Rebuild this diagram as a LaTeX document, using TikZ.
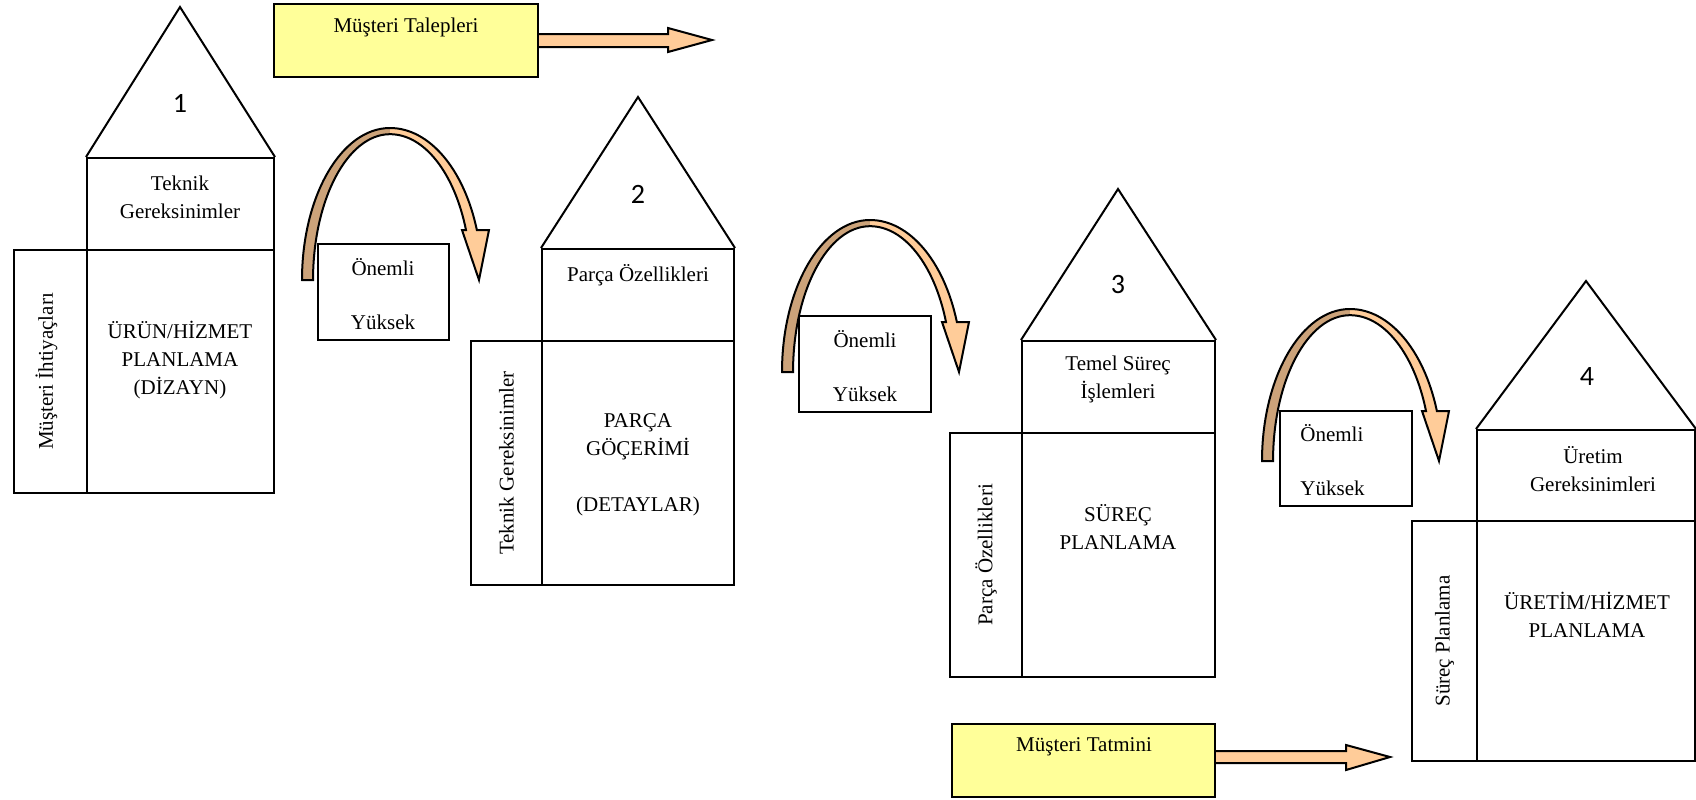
\documentclass[tikz,border=0pt]{standalone}
\usepackage{fontspec}
\setmainfont{Liberation Serif}
\newfontfamily\digitfont{Carlito}
\usetikzlibrary{fit}
\definecolor{notepad}{HTML}{FFFF99}
\definecolor{peach}{HTML}{FFCC99}
\definecolor{arcshade}{HTML}{CCA37A}
\tikzset{
  hbox/.style={draw, line width=1pt, inner sep=0pt, fill=white},
  ybox/.style={draw, line width=1.2pt, inner sep=0pt, fill=notepad},
  roofline/.style={line width=1pt, line join=miter},
  txt/.style={font=\fontsize{10.5}{14}\selectfont, align=center, inner sep=0pt},
  digit/.style={font=\digitfont\fontsize{14}{16}\selectfont, inner sep=0pt},
  blockarrow/.style={draw, line width=1pt, fill=peach, line join=miter},
  pics/uturn/.style={code={
    % shaded back of the turning arrow, from its foot up to the top
    \fill[arcshade]
      (0,0) arc[start angle=180, end angle=270, x radius=88, y radius=152]
      -- (88,-146)
      arc[start angle=270, end angle=180, x radius=77, y radius=146] -- cycle;
    % front band coming down into the head
    \fill[peach]
      (88,-152) arc[start angle=270, end angle=340.8, x radius=92, y radius=152]
      -- (187,-50) -- (177,0) -- (160,-50) -- (164,-50)
      arc[start angle=339.9, end angle=270, x radius=80.9, y radius=146] -- cycle;
    % one outline round the whole arrow
    \draw[line width=1pt, line join=miter]
      (0,0) arc[start angle=180, end angle=270, x radius=88, y radius=152]
      arc[start angle=270, end angle=340.8, x radius=92, y radius=152]
      -- (187,-50) -- (177,0) -- (160,-50) -- (164,-50)
      arc[start angle=339.9, end angle=270, x radius=80.9, y radius=146]
      arc[start angle=270, end angle=180, x radius=77, y radius=146] -- cycle;
  }}
}
\begin{document}
\begin{tikzpicture}[x=0.5pt, y=-0.5pt]
\useasboundingbox (0,0) rectangle (1696,799);

% ---------- house 1 ----------
\coordinate (r1) at (180,7);
\node[hbox, fit={(87,158) (274,250)}] (t1) {};
\node[hbox, fit={(14,250) (87,493)}] (s1) {};
\node[hbox, fit={(87,250) (274,493)}] (m1) {};
\draw[roofline] (t1.north west) -- (r1) -- (t1.north east);
\node[digit] (d1) at (180,103) {1};
\node[txt] (tt1) at (180,197) {Teknik\\Gereksinimler};
\node[txt] (mt1) at (180,360) {ÜRÜN/HİZMET\\PLANLAMA\\(DİZAYN)};
\node[txt, rotate=90] (st1) at ([xshift=-2]s1.center) {Müşteri İhtiyaçları};

% ---------- house 2 ----------
\coordinate (r2) at (638,97);
\node[hbox, fit={(542,249) (734,341)}] (t2) {};
\node[hbox, fit={(471,341) (542,585)}] (s2) {};
\node[hbox, fit={(542,341) (734,585)}] (m2) {};
\draw[roofline] (t2.north west) -- (r2) -- (t2.north east);
\node[digit] (d2) at (638,194) {2};
\node[txt] (tt2) at (638,275) {Parça Özellikleri};
\node[txt] (mt2) at (638,465) {PARÇA\\GÖÇERİMİ\\[14pt](DETAYLAR)};
\node[txt, rotate=90] (st2) at (s2.center) {Teknik Gereksinimler};

% ---------- house 3 ----------
\coordinate (r3) at (1118,189);
\node[hbox, fit={(1022,341) (1215,433)}] (t3) {};
\node[hbox, fit={(950,433) (1022,677)}] (s3) {};
\node[hbox, fit={(1022,433) (1215,677)}] (m3) {};
\draw[roofline] (t3.north west) -- (r3) -- (t3.north east);
\node[digit] (d3) at (1118,285) {3};
\node[txt] (tt3) at (1118,379) {Temel Süreç\\İşlemleri};
\node[txt] (mt3) at (1118,527) {SÜREÇ\\PLANLAMA};
\node[txt, rotate=90] (st3) at (s3.center) {Parça Özellikleri};

% ---------- house 4 ----------
\coordinate (r4) at (1586,281);
\node[hbox, fit={(1477,430) (1695,521)}] (t4) {};
\node[hbox, fit={(1412,521) (1477,761)}] (s4) {};
\node[hbox, fit={(1477,521) (1695,761)}] (m4) {};
\draw[roofline] (t4.north west) -- (r4) -- (t4.north east);
\node[digit] (d4) at (1587,376) {4};
\node[txt] (tt4) at (1593,469) {Üretim\\Gereksinimleri};
\node[txt] (mt4) at (1587,615) {ÜRETİM/HİZMET\\PLANLAMA};
\node[txt, rotate=90] (st4) at (s4.center) {Süreç Planlama};

% ---------- importance boxes ----------
\node[hbox, fit={(318,244) (449,340)}] (o1) {};
\node[txt] (o1a) at (383,267) {Önemli};
\node[txt] (o1b) at (383,322) {Yüksek};
\node[hbox, fit={(799,316) (931,412)}] (o2) {};
\node[txt] (o2a) at (865,339) {Önemli};
\node[txt] (o2b) at (865,394) {Yüksek};
\node[hbox, fit={(1280,411) (1412,506)}] (o3) {};
\node[txt, anchor=west] (o3a) at (1300,433) {Önemli};
\node[txt, anchor=west] (o3b) at (1300,488) {Yüksek};

% ---------- turning arrows ----------
\pic (u1) at (302,280) {uturn};
\pic (u2) at (782,372) {uturn};
\pic (u3) at (1262,461) {uturn};

% ---------- customer arrows ----------
\coordinate (a1) at (712,40);
\draw[blockarrow] (530,34) -- (668,34) -- (668,28) -- (a1) -- (668,52) -- (668,47) -- (530,47) -- cycle;
\node[ybox, fit={(274,4) (538,77)}] (talep) {};
\node[txt] (talept) at (406,27) {Müşteri Talepleri};

\coordinate (a2) at (1390,757);
\draw[blockarrow] (1208,751) -- (1346,751) -- (1346,745) -- (a2) -- (1346,770) -- (1346,763) -- (1208,763) -- cycle;
\node[ybox, fit={(952,724) (1215,797)}] (tatmin) {};
\node[txt] (tatmint) at (1084,747) {Müşteri Tatmini};
\end{tikzpicture}
\end{document}
